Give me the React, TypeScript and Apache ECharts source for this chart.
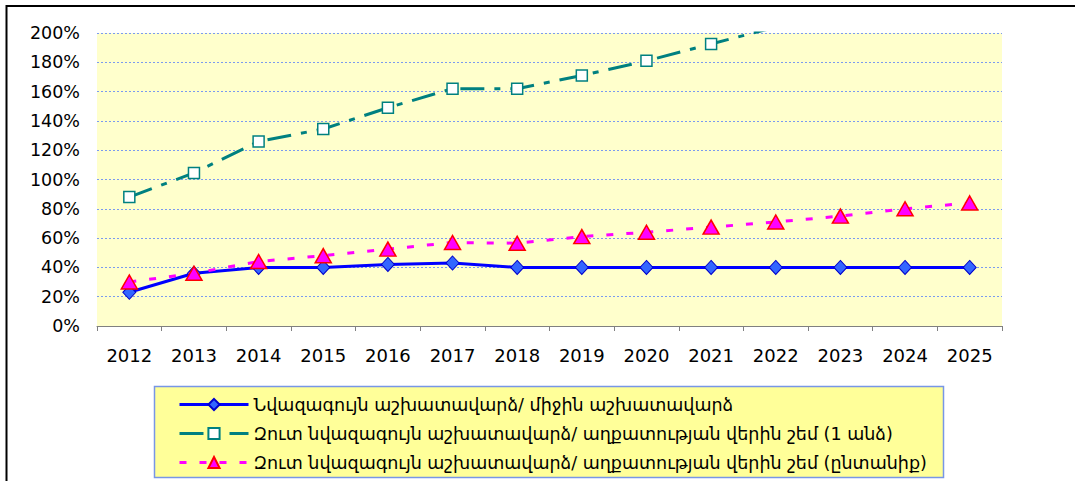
import React, { useEffect, useRef } from "react";
import * as echarts from "echarts";

const years = ["2012", "2013", "2014", "2015", "2016", "2017", "2018", "2019", "2020", "2021", "2022", "2023", "2024", "2025"];
const seriesNames = [
  "Նվազագույն աշխատավարձ/ միջին աշխատավարձ",
  "Զուտ նվազագույն աշխատավարձ/ աղքատության վերին շեմ (1 անձ)",
  "Զուտ նվազագույն աշխատավարձ/ աղքատության վերին շեմ (ընտանիք)",
];
const minToAvg = [23, 36, 40, 40, 42, 43, 40, 40, 40, 40, 40, 40, 40, 40];
const netToPovertySingle = [88, 104.5, 126, 134.5, 149, 162, 162, 171, 181, 192.5, 204, null, null, null];
const netToPovertyFamily = [30, 36, 44, 48, 52.5, 57, 56.5, 61, 64, 67.5, 71, 75, 80, 84];
const yTicks = { min: 0, max: 200, interval: 20 };

const FONT = "'DejaVu Sans', Verdana, sans-serif";

export default function App() {
  const ref = useRef<HTMLDivElement>(null);
  useEffect(() => {
    if (!ref.current) return;
    const chart = echarts.init(ref.current, null, { renderer: "svg" });
    chart.setOption({
      animation: false,
      backgroundColor: "#ffffff",
      textStyle: { fontFamily: FONT },
      grid: {
        left: 97,
        top: 33,
        width: 905,
        height: 293,
        show: true,
        backgroundColor: "#FFFFCC",
        borderWidth: 0,
        containLabel: false,
      },
      graphic: [
        {
          type: "rect",
          shape: { x: 6.5, y: 6, width: 1200, height: 600 },
          style: { fill: "none", stroke: "#000000", lineWidth: 2 },
          silent: true,
          z: 100,
        },
        {
          type: "rect",
          shape: { x: 154.5, y: 386.5, width: 789, height: 91 },
          style: { fill: "#FFFF99", stroke: "#7896E6", lineWidth: 1.5 },
          silent: true,
          z: 0,
        },
      ],
      legend: {
        orient: "vertical",
        left: 178,
        top: 394,
        itemWidth: 69,
        itemHeight: 14,
        itemGap: 8,
        padding: 0,
        lineStyle: { width: 3 },
        textStyle: { fontFamily: FONT, fontSize: 17.5, color: "#000", lineHeight: 21 },
        data: seriesNames,
        z: 5,
      },
      xAxis: {
        type: "category",
        data: years,
        boundaryGap: true,
        axisLine: { show: true, lineStyle: { color: "#808080", width: 1 } },
        axisTick: { show: true, length: 5, lineStyle: { color: "#808080" } },
        axisLabel: { fontFamily: FONT, fontSize: 18, color: "#000", margin: 20 },
        splitLine: { show: false },
      },
      yAxis: {
        type: "value",
        min: yTicks.min,
        max: yTicks.max,
        interval: yTicks.interval,
        axisLine: { show: false },
        axisTick: { show: false },
        axisLabel: { fontFamily: FONT, fontSize: 17.5, color: "#000", margin: 17, formatter: "{value}%" },
        splitLine: { show: true, lineStyle: { color: "#7A9AF0", width: 1, type: [2, 2] } },
      },
      series: [
        {
          name: seriesNames[0],
          type: "line",
          data: minToAvg,
          symbol: "diamond",
          symbolSize: [13, 14],
          lineStyle: { color: "#0000FF", width: 3 },
          itemStyle: { color: "#3366FF", borderColor: "#0000CC", borderWidth: 1 },
          z: 3,
        },
        {
          name: seriesNames[1],
          type: "line",
          data: netToPovertySingle,
          clip: true,
          symbol: "rect",
          symbolSize: 11,
          lineStyle: { color: "#008080", width: 3, type: [24, 10, 6, 10] },
          itemStyle: { color: "#FFFFFF", borderColor: "#008080", borderWidth: 1.5 },
          z: 2,
        },
        {
          name: seriesNames[2],
          type: "line",
          data: netToPovertyFamily,
          symbol: "triangle",
          symbolSize: [16, 14],
          lineStyle: { color: "#FF00FF", width: 3, type: [7, 13] },
          itemStyle: { color: "#FF00FF", borderColor: "#FF0000", borderWidth: 1.5 },
          z: 4,
        },
      ],
    });
    return () => chart.dispose();
  }, []);
  return <div ref={ref} style={{ position: "absolute", left: 0, top: 0, width: 1075, height: 481 }} />;
}
